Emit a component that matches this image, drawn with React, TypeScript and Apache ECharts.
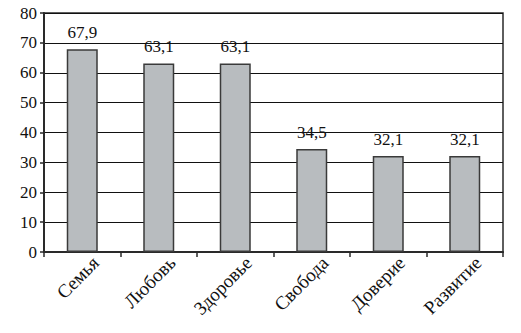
import React, { useEffect, useRef } from "react";
import * as echarts from "echarts";

const categories = ["Семья", "Любовь", "Здоровье", "Свобода", "Доверие", "Развитие"];
const values = [67.9, 63.1, 63.1, 34.5, 32.1, 32.1];
const yTicks = [0, 10, 20, 30, 40, 50, 60, 70, 80];

const FONT = "Liberation Serif";

export default function App() {
  const ref = useRef<HTMLDivElement>(null);
  useEffect(() => {
    if (!ref.current) return;
    const chart = echarts.init(ref.current, null, { renderer: "svg" });
    chart.setOption({
      animation: false,
      backgroundColor: "#ffffff",
      textStyle: { fontFamily: FONT },
      grid: {
        left: 44,
        right: 18,
        top: 13,
        bottom: 81,
        show: true,
        borderColor: "#2a2a2a",
        borderWidth: 1.5,
      },
      xAxis: {
        type: "category",
        data: categories,
        axisLine: { show: true, lineStyle: { color: "#2a2a2a", width: 2 } },
        axisTick: { show: true, alignWithLabel: false, length: 5, lineStyle: { color: "#2a2a2a", width: 1.5 } },
        axisLabel: {
          rotate: 45,
          interval: 0,
          margin: 21,
          padding: [0, -19, 0, 0],
          fontFamily: FONT,
          fontSize: 19,
          color: "#111",
        },
      },
      yAxis: {
        type: "value",
        min: yTicks[0],
        max: yTicks[yTicks.length - 1],
        interval: 10,
        axisLine: { show: true, lineStyle: { color: "#2a2a2a", width: 2 } },
        axisTick: { show: true, inside: false, length: 4, lineStyle: { color: "#2a2a2a", width: 1.5 } },
        axisLabel: { margin: 7, fontFamily: FONT, fontSize: 17, color: "#111" },
        splitLine: { show: true, lineStyle: { color: "#111", width: 1 } },
      },
      series: [
        {
          type: "bar",
          data: values,
          barWidth: 31,
          itemStyle: { color: "#b8bcbf", borderColor: "#3a3a3a", borderWidth: 1.5 },
          label: {
            show: true,
            position: "top",
            distance: 8,
            fontFamily: FONT,
            fontSize: 17,
            color: "#111",
            formatter: (p: any) => String(p.value).replace(".", ","),
          },
        },
      ],
    });
    return () => chart.dispose();
  }, []);
  return <div ref={ref} style={{ width: 521, height: 333, margin: -8 }} />;
}
